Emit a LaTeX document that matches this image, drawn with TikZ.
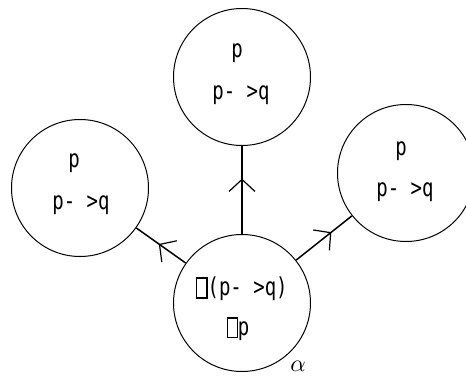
\documentclass[tikz,border=0pt]{standalone}
\usepackage{fontspec}
\usepackage{graphicx}
\newfontfamily\pix{DejaVu Sans Mono}
\usetikzlibrary{decorations.markings}
\newcommand\bx{\raisebox{-1pt}{\setlength\fboxrule{1.1pt}\setlength\fboxsep{0pt}\fbox{\rule{0pt}{14pt}\hspace{9pt}}}}
\newcommand\tx[1]{\scalebox{1}[1.3]{#1}}
\tikzset{
  world/.style={circle,draw,line width=1pt,minimum size=137pt,inner sep=0pt},
  lbl/.style={font=\pix\fontsize{19}{19}\selectfont,inner sep=0pt},
  rel/.style={line width=1.5pt,postaction={decorate},
    decoration={markings,mark=at position #1 with {\draw[line width=1.2pt] (-12pt,13pt) -- (0,0) -- (-12pt,-13pt);}}},
}
\begin{document}
\begin{tikzpicture}[x=1pt,y=-1pt]
\useasboundingbox (0,0) rectangle (466,378);
\clip (0,0) rectangle (466,378);
\node[world] (w0) at (242,303) {};
\node[world] (w1) at (242,77) {};
\node[world] (w2) at (80,188) {};
\node[world] (w3) at (406,173) {};
\node[lbl] (a0) at (242,289) {\tx{\bx(p- >q)}};
\node[lbl] (b0) at (238,329) {\tx{\bx p}};
\node[lbl] (a1) at (237,53) {\tx{p}};
\node[lbl] (b1) at (241,95) {\tx{p- >q}};
\node[lbl] (a2) at (74,163) {\tx{p}};
\node[lbl] (b2) at (81,205) {\tx{p- >q}};
\node[lbl] (a3) at (401,151) {\tx{p}};
\node[lbl] (b3) at (405,192) {\tx{p- >q}};
\node[inner sep=0pt] (al) at (298,366) {\scalebox{2.4}{$\alpha$}};
\draw[rel=0.62] (w0) -- (w1);
\draw[rel=0.53] (w0) -- (w2);
\draw[rel=0.62] (w0) -- (w3);
\end{tikzpicture}
\end{document}
